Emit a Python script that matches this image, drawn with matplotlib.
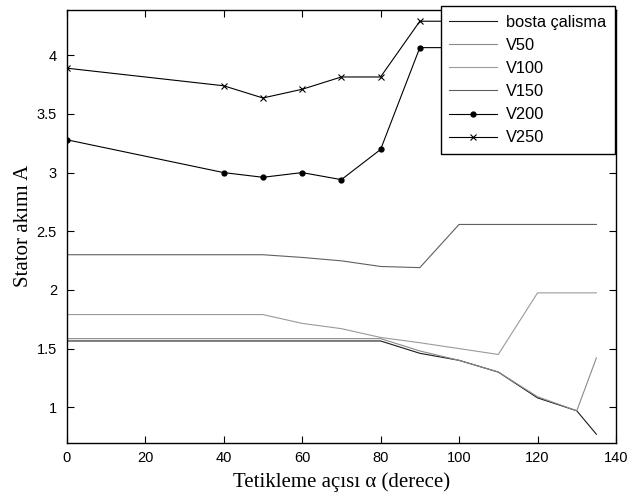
import matplotlib
matplotlib.use("Agg")
import matplotlib.pyplot as plt

# data
alpha = [0, 40, 50, 60, 70, 80, 90, 100, 110, 120, 130, 135]
bosta = [1.565, 1.565, 1.565, 1.565, 1.565, 1.565, 1.46, 1.40, 1.30, 1.08, 0.97, 0.77]
v50 = [1.585, 1.585, 1.585, 1.585, 1.585, 1.585, 1.48, 1.40, 1.30, 1.09, 0.97, 1.42]
v100 = [1.79, 1.79, 1.79, 1.715, 1.67, 1.595, 1.55, 1.50, 1.45, 1.975, 1.975, 1.975]
v150 = [2.30, 2.30, 2.30, 2.277, 2.248, 2.20, 2.19, 2.558, 2.558, 2.558, 2.558, 2.558]
v200 = [3.28, 3.00, 2.96, 3.00, 2.94, 3.197, 4.065, 4.065, 4.065, 4.065, 4.065, 4.065]
v250 = [3.89, 3.74, 3.636, 3.71, 3.815, 3.815, 4.29, 4.29, 4.29, 4.29, 4.29, 4.29]
labels = ["bosta çalisma", "V50", "V100", "V150", "V200", "V250"]
xticks = [0, 20, 40, 60, 80, 100, 120, 140]
yticks = [1, 1.5, 2, 2.5, 3, 3.5, 4]
ytick_labels = ["1", "1.5", "2", "2.5", "3", "3.5", "4"]

W, H = 644, 497
fig = plt.figure(figsize=(W / 100, H / 100), dpi=100)
ax = fig.add_axes([66.7 / W, 1 - 442.7 / H, (616 - 66.7) / W, (442.7 - 9.5) / H])

lw = 0.8
ax.plot(alpha, bosta, color="#1a1a1a", lw=lw, label=labels[0])
ax.plot(alpha, v50, color="#8a8a8a", lw=lw, label=labels[1])
ax.plot(alpha, v100, color="#9a9a9a", lw=lw, label=labels[2])
ax.plot(alpha, v150, color="#606060", lw=lw, label=labels[3])
ax.plot(alpha, v200, color="black", lw=lw, marker="o", markersize=3.5, label=labels[4])
ax.plot(alpha, v250, color="black", lw=lw, marker="x", markersize=5, mew=0.8, label=labels[5])

ax.set_xlim(0, 140)
ax.set_ylim(0.698, 4.39)
ax.set_xticks(xticks)
ax.set_yticks(yticks)
ax.set_yticklabels(ytick_labels)
ax.tick_params(direction="in", length=5, width=0.8, top=True, right=True,
               labelsize=10.5, pad=6)
ax.tick_params(axis="y", pad=7)
for lab in ax.get_xticklabels() + ax.get_yticklabels():
    lab.set_fontfamily("Liberation Sans")
for s in ax.spines.values():
    s.set_linewidth(1.0)

ax.set_xlabel("Tetikleme açısı α (derece)", fontsize=15, family="Liberation Serif", labelpad=5.3)
ax.set_ylabel("Stator akımı A", fontsize=15, family="Liberation Serif", labelpad=2.5)

leg = ax.legend(loc="upper right", bbox_to_anchor=(615 / W, 1 - 6 / H),
                bbox_transform=fig.transFigure, borderaxespad=0,
                prop={"family": "Liberation Sans", "size": 11.8},
                handlelength=2.93, handletextpad=0.55, labelspacing=0.5,
                borderpad=0.52, fancybox=False, framealpha=1, edgecolor="black")
leg.get_frame().set_linewidth(1.0)

fig.savefig("out.png", dpi=100)
